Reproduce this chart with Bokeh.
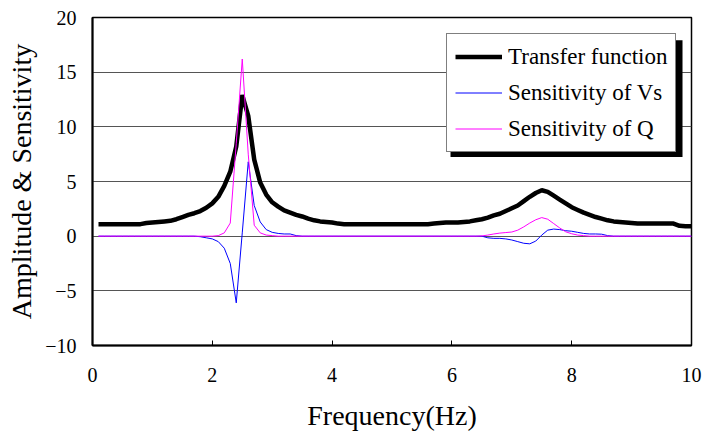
from bokeh.plotting import figure
from bokeh.models import Range1d, Legend, LegendItem, BoxAnnotation, FixedTicker
from bokeh.embed import file_html
from bokeh.resources import INLINE

freq = [0.1, 0.2, 0.3, 0.4, 0.5, 0.6, 0.7, 0.8, 0.9, 1.0,
        1.1, 1.2, 1.3, 1.4, 1.5, 1.6, 1.7, 1.8, 1.9, 2.0,
        2.1, 2.2, 2.3, 2.4, 2.5, 2.6, 2.7, 2.8, 2.9, 3.0,
        3.1, 3.2, 3.3, 3.4, 3.5, 3.6, 3.7, 3.8, 3.9, 4.0,
        4.1, 4.2, 4.3, 4.4, 4.5, 4.6, 4.7, 4.8, 4.9, 5.0,
        5.1, 5.2, 5.3, 5.4, 5.5, 5.6, 5.7, 5.8, 5.9, 6.0,
        6.1, 6.2, 6.3, 6.4, 6.5, 6.6, 6.7, 6.8, 6.9, 7.0,
        7.1, 7.2, 7.3, 7.4, 7.5, 7.6, 7.7, 7.8, 7.9, 8.0,
        8.1, 8.2, 8.3, 8.4, 8.5, 8.6, 8.7, 8.8, 8.9, 9.0,
        9.1, 9.2, 9.3, 9.4, 9.5, 9.6, 9.7, 9.8, 9.9, 10.0]

transfer = [1.1, 1.1, 1.1, 1.1, 1.1, 1.1, 1.1, 1.1, 1.2, 1.25,
            1.3, 1.35, 1.4, 1.55, 1.75, 1.95, 2.1, 2.3, 2.6, 3.0,
            3.6, 4.6, 5.9, 8.2, 12.9, 11.0, 7.0, 4.9, 3.8, 3.1,
            2.7, 2.35, 2.15, 1.95, 1.8, 1.6, 1.45, 1.35, 1.3, 1.25,
            1.15, 1.1, 1.1, 1.1, 1.1, 1.1, 1.1, 1.1, 1.1, 1.1,
            1.1, 1.1, 1.1, 1.1, 1.1, 1.1, 1.15, 1.2, 1.25, 1.25,
            1.25, 1.3, 1.35, 1.45, 1.55, 1.7, 1.9, 2.05, 2.3, 2.55,
            2.8, 3.2, 3.6, 3.95, 4.2, 4.05, 3.7, 3.35, 3.0, 2.65,
            2.4, 2.15, 1.95, 1.75, 1.6, 1.45, 1.35, 1.3, 1.25, 1.2,
            1.15, 1.15, 1.15, 1.15, 1.15, 1.15, 1.15, 0.95, 0.9, 0.9]

sens_vs = [0, 0, 0, 0, 0, 0, 0, 0, 0, 0,
           0, 0, 0, 0, 0, 0, 0, -0.05, -0.15, -0.25,
           -0.5, -1.1, -2.5, -6.1, 0.3, 6.8, 2.8, 1.3, 0.6, 0.35,
           0.25, 0.2, 0.2, 0.05, 0, 0, 0, 0, 0, 0,
           0, 0, 0, 0, 0, 0, 0, 0, 0, 0,
           0, 0, 0, 0, 0, 0, 0, 0, 0, 0,
           0, 0, 0, 0, 0, -0.15, -0.2, -0.2, -0.25, -0.35,
           -0.5, -0.65, -0.7, -0.45, 0.1, 0.55, 0.65, 0.6, 0.5, 0.45,
           0.35, 0.25, 0.2, 0.2, 0.18, 0.05, 0, 0, 0, 0,
           0, 0, 0, 0, 0, 0, 0, 0, 0, 0]

sens_q = [0, 0, 0, 0, 0, 0, 0, 0, 0, 0,
          0, 0, 0, 0, 0, 0, 0, 0, 0, 0,
          0.05, 0.3, 1.2, 8.5, 16.2, 7.5, 1.0, 0.3, 0.1, 0.05,
          0, 0, 0, 0, 0, 0, 0, 0, 0, 0,
          0, 0, 0, 0, 0, 0, 0, 0, 0, 0,
          0, 0, 0, 0, 0, 0, 0, 0, 0, 0,
          0, 0, 0, 0, 0.02, 0.1, 0.2, 0.28, 0.33, 0.38,
          0.55, 0.85, 1.2, 1.5, 1.7, 1.55, 1.15, 0.75, 0.4, 0.22,
          0.1, 0.05, 0, 0, 0, 0, 0, 0, 0, 0,
          0, 0, 0, 0, 0, 0, 0, 0, 0, 0]

x_ticks = [0, 2, 4, 6, 8, 10]
y_ticks = [-10, -5, 0, 5, 10, 15, 20]
series_labels = ["Transfer function", "Sensitivity of Vs", "Sensitivity of Q"]

FONT = "Liberation Serif"

p = figure(width=702, height=433, output_backend="svg", toolbar_location=None,
           x_range=Range1d(0, 10), y_range=Range1d(-10, 20),
           min_border_left=92, min_border_right=11, min_border_top=17,
           min_border_bottom=88, background_fill_color="white",
           border_fill_color="white")

p.outline_line_color = "black"
p.outline_line_width = 1.5
p.xgrid.visible = False
p.ygrid.grid_line_color = "#555555"
p.ygrid.grid_line_width = 1

p.xaxis.ticker = FixedTicker(ticks=x_ticks)
p.yaxis.ticker = FixedTicker(ticks=y_ticks)
for ax in (p.xaxis[0], p.yaxis[0]):
    ax.axis_line_color = "black"
    ax.axis_line_width = 2
    ax.minor_tick_line_color = None
    ax.major_label_text_font = FONT
    ax.major_label_text_font_size = "20px"
    ax.major_label_text_color = "black"
    ax.axis_label_text_font = FONT
    ax.axis_label_text_font_size = "28px"
    ax.axis_label_text_font_style = "normal"
    ax.axis_label_text_color = "black"

p.xaxis.major_tick_in = 5
p.xaxis.major_tick_out = 0
p.xaxis.major_tick_line_color = "black"
p.xaxis.major_label_standoff = 22
p.xaxis.axis_label = "Frequency(Hz)"
p.xaxis.axis_label_standoff = 15

p.yaxis.major_tick_in = 0
p.yaxis.major_tick_out = 0
p.yaxis.major_label_standoff = 16
p.yaxis.axis_label = "Amplitude & Sensitivity"
p.yaxis.axis_label_standoff = 5

r_tf = p.line(freq, transfer, line_color="black", line_width=4.5)
r_vs = p.line(freq, sens_vs, line_color="#0000FF", line_width=1)
r_q = p.line(freq, sens_q, line_color="#FF00FF", line_width=1)

shadow = BoxAnnotation(left=5.977, right=9.85, top=17.93, bottom=7.23,
                       fill_color="black", fill_alpha=1.0, line_color=None)
p.add_layout(shadow)

legend = Legend(items=[LegendItem(label=series_labels[0], renderers=[r_tf]),
                       LegendItem(label=series_labels[1], renderers=[r_vs]),
                       LegendItem(label=series_labels[2], renderers=[r_q])],
                location=(354, 193),
                label_text_font=FONT, label_text_font_size="23px",
                label_text_color="black",
                glyph_width=47, glyph_height=29, label_height=29,
                label_standoff=6, spacing=7, padding=8, margin=0,
                border_line_color="black", border_line_width=1,
                background_fill_color="white", background_fill_alpha=1.0)
p.add_layout(legend)

open("out.html", "w").write(file_html(p, INLINE))
